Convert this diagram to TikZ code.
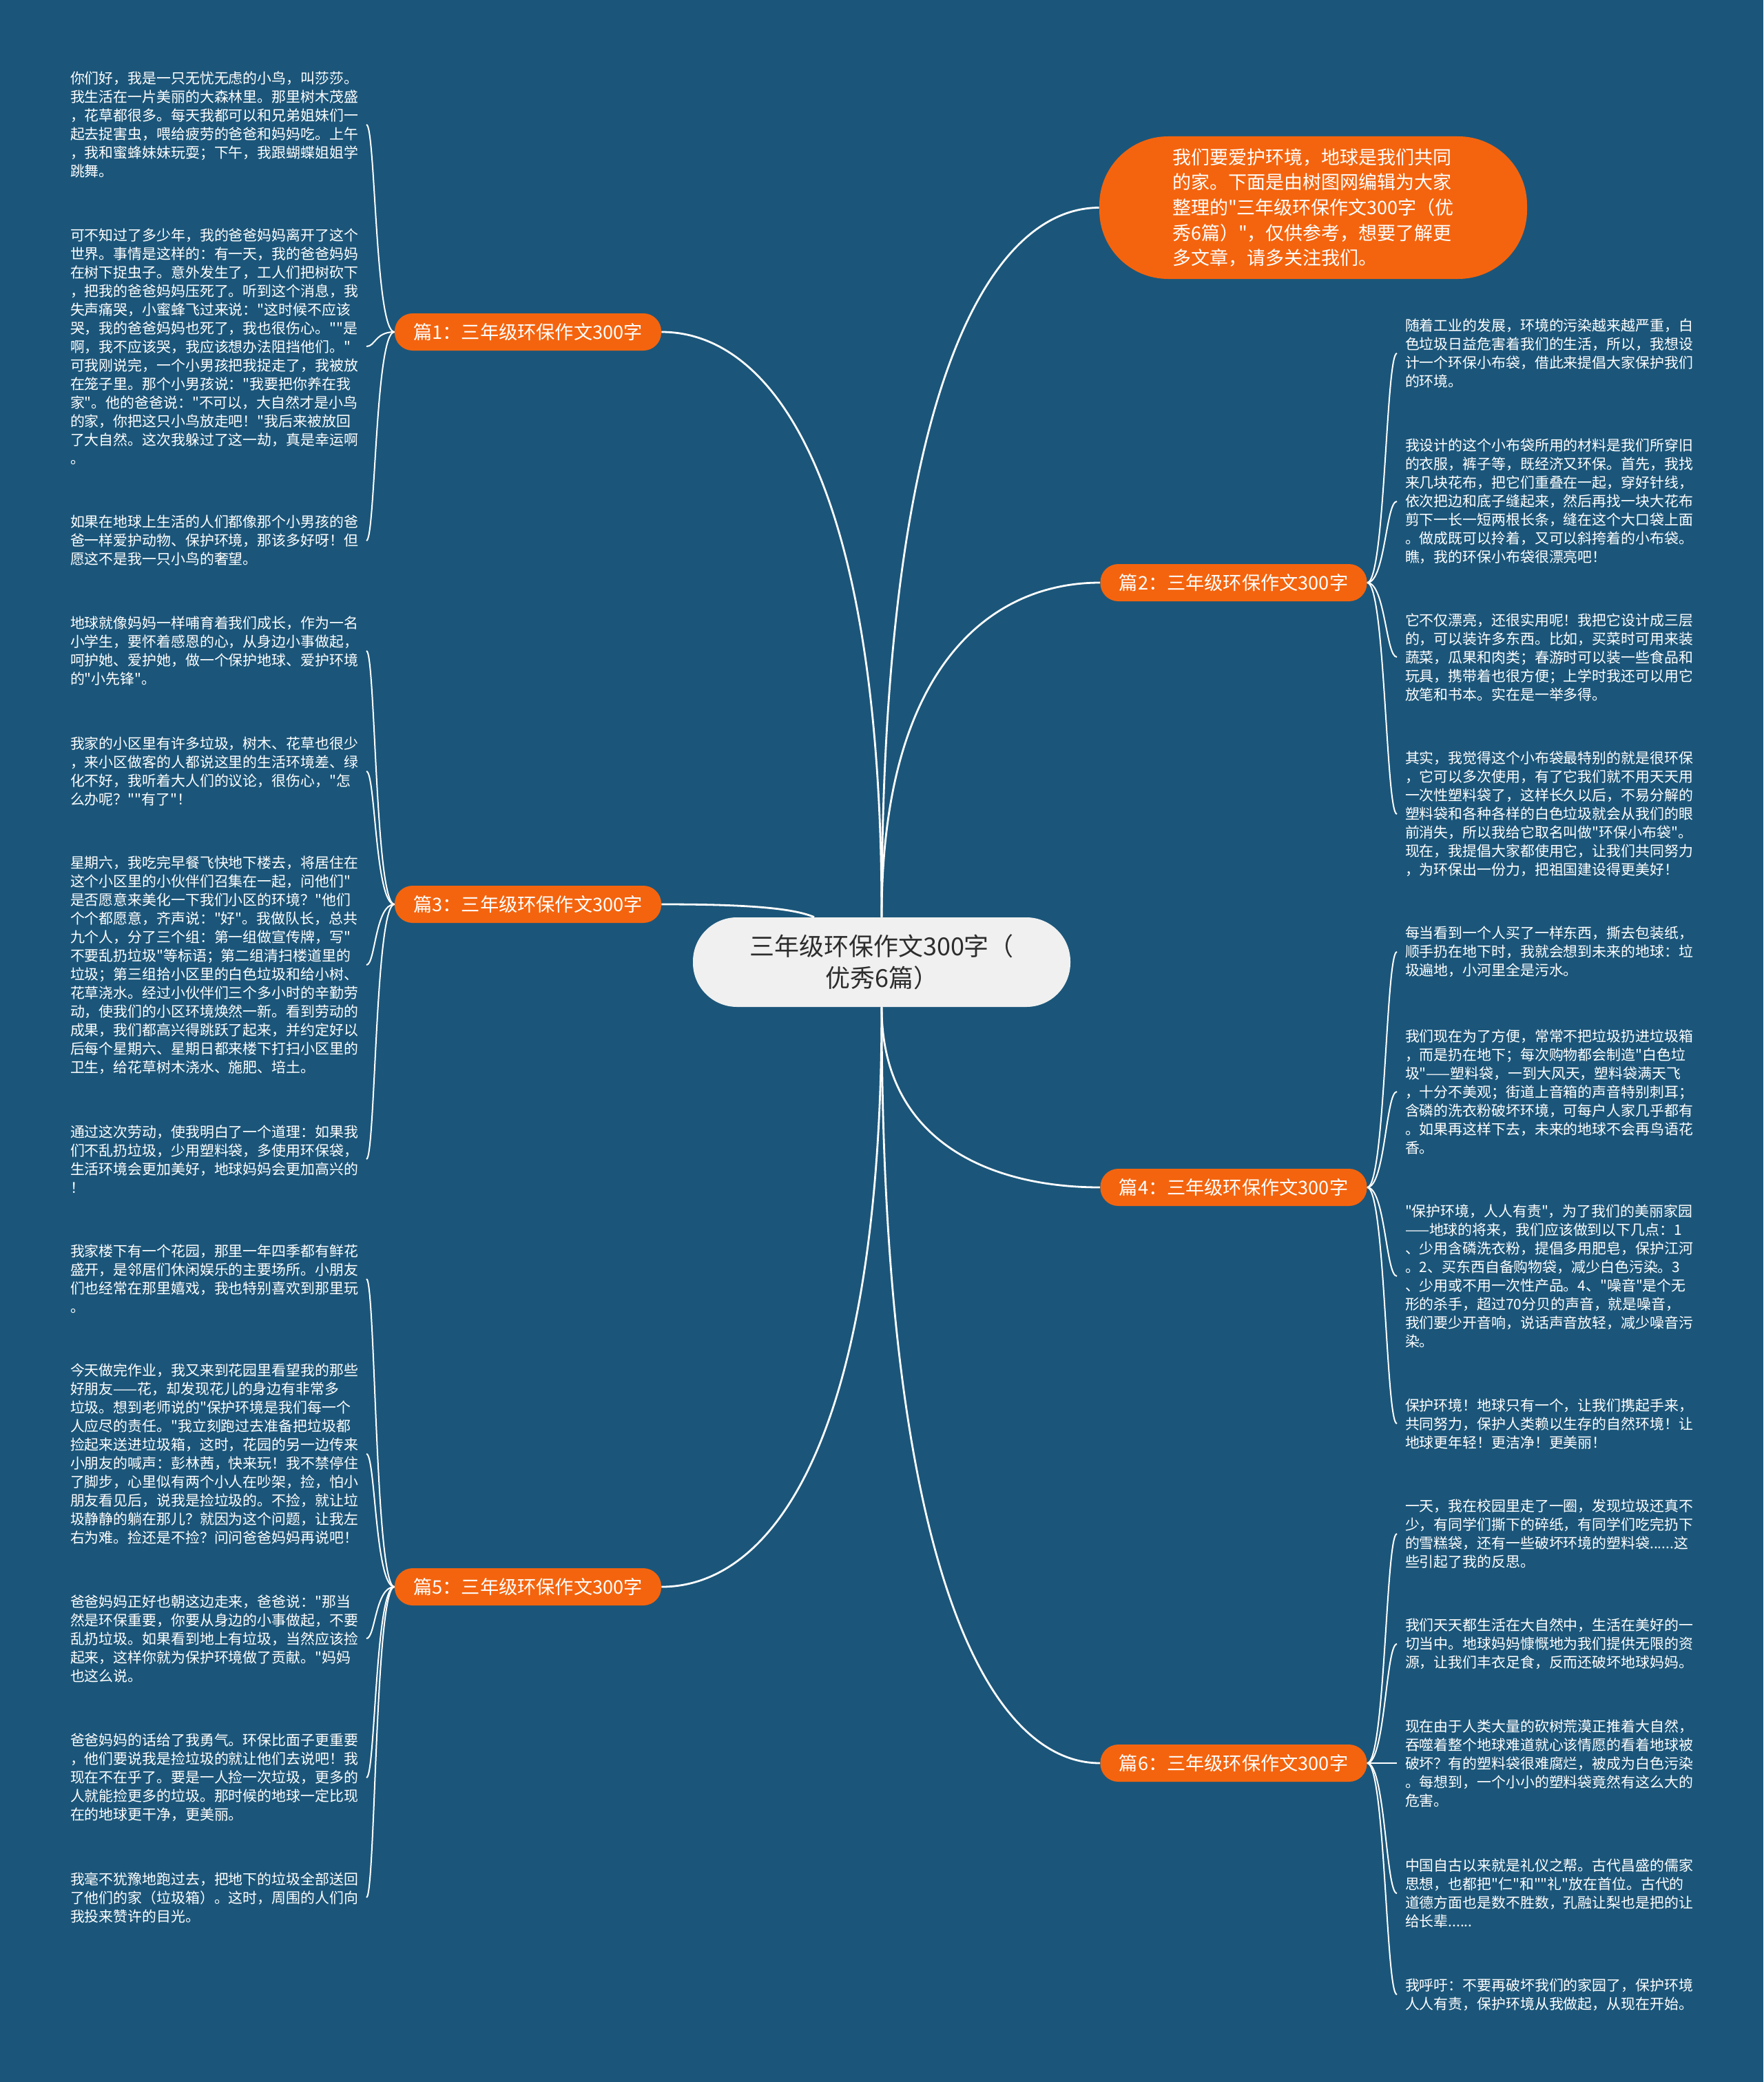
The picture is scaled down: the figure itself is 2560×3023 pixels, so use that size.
\documentclass[tikz,border=0pt]{standalone}
\usepackage{fontspec}
\setmainfont{Noto Sans CJK SC}
\newfontfamily\cjkfont{Noto Sans CJK SC}
\definecolor{bgblue}{RGB}{27,86,122}
\definecolor{essayorange}{RGB}{244,100,14}
\definecolor{centregray}{RGB}{240,240,240}
\definecolor{centretext}{RGB}{45,45,45}
\begin{document}
\begin{tikzpicture}[x=0.5pt,y=-0.5pt,
    centre/.style={rounded corners=32pt,fill=centregray,text=centretext,minimum width=274pt,minimum height=65pt,align=center,font=\cjkfont\fontsize{18pt}{23pt}\selectfont},
    essay/.style={rounded corners=13pt,fill=essayorange,text=white,minimum width=193.5pt,minimum height=27pt,inner sep=0pt,font=\cjkfont\fontsize{13.6pt}{16pt}\selectfont},
    intro/.style={rounded corners=50pt,fill=essayorange,text=white,minimum width=310.5pt,minimum height=103.5pt,align=left,font=\cjkfont\fontsize{13.5pt}{18.3pt}\selectfont},
    para/.style={anchor=west,inner sep=0pt,outer sep=6pt,text=white,align=left,font=\cjkfont\fontsize{10.45pt}{13.5pt}\selectfont},
    trunk/.style={draw=white,line width=1.4pt},
    twig/.style={draw=white,line width=1pt}]
\fill[bgblue] (0,0) rectangle (2560,3023);

% centre and first level
\node[centre] (c) at (1280,1397) {三年级环保作文300字（\\优秀6篇）};
\node[intro] (intro) at (1906.5,301.5) {我们要爱护环境，地球是我们共同\\的家。下面是由树图网编辑为大家\\整理的"三年级环保作文300字（优\\秀6篇）"，仅供参考，想要了解更\\多文章，请多关注我们。};
\node[essay] (b1) at (766.5,482) {篇1：三年级环保作文300字};
\node[essay] (b2) at (1791,846) {篇2：三年级环保作文300字};
\node[essay] (b3) at (766.5,1313) {篇3：三年级环保作文300字};
\node[essay] (b4) at (1791,1724) {篇4：三年级环保作文300字};
\node[essay] (b5) at (766.5,2304) {篇5：三年级环保作文300字};
\node[essay] (b6) at (1791,2560) {篇6：三年级环保作文300字};

% left column
\node[para] (l11) at (90,181) {你们好，我是一只无忧无虑的小鸟，叫莎莎。\\我生活在一片美丽的大森林里。那里树木茂盛\\，花草都很多。每天我都可以和兄弟姐妹们一\\起去捉害虫，喂给疲劳的爸爸和妈妈吃。上午\\，我和蜜蜂妹妹玩耍；下午，我跟蝴蝶姐姐学\\跳舞。};
\node[para] (l12) at (90,503) {可不知过了多少年，我的爸爸妈妈离开了这个\\世界。事情是这样的：有一天，我的爸爸妈妈\\在树下捉虫子。意外发生了，工人们把树砍下\\，把我的爸爸妈妈压死了。听到这个消息，我\\失声痛哭，小蜜蜂飞过来说："这时候不应该\\哭，我的爸爸妈妈也死了，我也很伤心。""是\\啊，我不应该哭，我应该想办法阻挡他们。"\\可我刚说完，一个小男孩把我捉走了，我被放\\在笼子里。那个小男孩说："我要把你养在我\\家"。他的爸爸说："不可以，大自然才是小鸟\\的家，你把这只小鸟放走吧！"我后来被放回\\了大自然。这次我躲过了这一劫，真是幸运啊\\。};
\node[para] (l13) at (90,785) {如果在地球上生活的人们都像那个小男孩的爸\\爸一样爱护动物、保护环境，那该多好呀！但\\愿这不是我一只小鸟的奢望。};
\node[para] (l31) at (90,945) {地球就像妈妈一样哺育着我们成长，作为一名\\小学生，要怀着感恩的心，从身边小事做起，\\呵护她、爱护她，做一个保护地球、爱护环境\\的"小先锋"。};
\node[para] (l32) at (90,1120) {我家的小区里有许多垃圾，树木、花草也很少\\，来小区做客的人都说这里的生活环境差、绿\\化不好，我听着大人们的议论，很伤心，"怎\\么办呢？""有了"！};
\node[para] (l33) at (90,1401) {星期六，我吃完早餐飞快地下楼去，将居住在\\这个小区里的小伙伴们召集在一起，问他们"\\是否愿意来美化一下我们小区的环境？"他们\\个个都愿意，齐声说："好"。我做队长，总共\\九个人，分了三个组：第一组做宣传牌，写"\\不要乱扔垃圾"等标语；第二组清扫楼道里的\\垃圾；第三组拾小区里的白色垃圾和给小树、\\花草浇水。经过小伙伴们三个多小时的辛勤劳\\动，使我们的小区环境焕然一新。看到劳动的\\成果，我们都高兴得跳跃了起来，并约定好以\\后每个星期六、星期日都来楼下打扫小区里的\\卫生，给花草树木浇水、施肥、培土。};
\node[para] (l34) at (90,1683) {通过这次劳动，使我明白了一个道理：如果我\\们不乱扔垃圾，少用塑料袋，多使用环保袋，\\生活环境会更加美好，地球妈妈会更加高兴的\\！};
\node[para] (l51) at (90,1857) {我家楼下有一个花园，那里一年四季都有鲜花\\盛开，是邻居们休闲娱乐的主要场所。小朋友\\们也经常在那里嬉戏，我也特别喜欢到那里玩\\。};
\node[para] (l52) at (90,2111) {今天做完作业，我又来到花园里看望我的那些\\好朋友——花，却发现花儿的身边有非常多\\垃圾。想到老师说的"保护环境是我们每一个\\人应尽的责任。"我立刻跑过去准备把垃圾都\\捡起来送进垃圾箱，这时，花园的另一边传来\\小朋友的喊声：彭林茜，快来玩！我不禁停住\\了脚步，心里似有两个小人在吵架，捡，怕小\\朋友看见后，说我是捡垃圾的。不捡，就让垃\\圾静静的躺在那儿？就因为这个问题，让我左\\右为难。捡还是不捡？问问爸爸妈妈再说吧！};
\node[para] (l53) at (90,2379) {爸爸妈妈正好也朝这边走来，爸爸说："那当\\然是环保重要，你要从身边的小事做起，不要\\乱扔垃圾。如果看到地上有垃圾，当然应该捡\\起来，这样你就为保护环境做了贡献。"妈妈\\也这么说。};
\node[para] (l54) at (90,2581) {爸爸妈妈的话给了我勇气。环保比面子更重要\\，他们要说我是捡垃圾的就让他们去说吧！我\\现在不在乎了。要是一人捡一次垃圾，更多的\\人就能捡更多的垃圾。那时候的地球一定比现\\在的地球更干净，更美丽。};
\node[para] (l55) at (90,2755) {我毫不犹豫地跑过去，把地下的垃圾全部送回\\了他们的家（垃圾箱）。这时，周围的人们向\\我投来赞许的目光。};

% right column
\node[para] (r21) at (2028,513) {随着工业的发展，环境的污染越来越严重，白\\色垃圾日益危害着我们的生活，所以，我想设\\计一个环保小布袋，借此来提倡大家保护我们\\的环境。};
\node[para] (r22) at (2028,728) {我设计的这个小布袋所用的材料是我们所穿旧\\的衣服，裤子等，既经济又环保。首先，我找\\来几块花布，把它们重叠在一起，穿好针线，\\依次把边和底子缝起来，然后再找一块大花布\\剪下一长一短两根长条，缝在这个大口袋上面\\。做成既可以拎着，又可以斜挎着的小布袋。\\瞧，我的环保小布袋很漂亮吧！};
\node[para] (r23) at (2028,954) {它不仅漂亮，还很实用呢！我把它设计成三层\\的，可以装许多东西。比如，买菜时可用来装\\蔬菜，瓜果和肉类；春游时可以装一些食品和\\玩具，携带着也很方便；上学时我还可以用它\\放笔和书本。实在是一举多得。};
\node[para] (r24) at (2028,1182) {其实，我觉得这个小布袋最特别的就是很环保\\，它可以多次使用，有了它我们就不用天天用\\一次性塑料袋了，这样长久以后，不易分解的\\塑料袋和各种各样的白色垃圾就会从我们的眼\\前消失，所以我给它取名叫做"环保小布袋"。\\现在，我提倡大家都使用它，让我们共同努力\\，为环保出一份力，把祖国建设得更美好！};
\node[para] (r41) at (2028,1382) {每当看到一个人买了一样东西，撕去包装纸，\\顺手扔在地下时，我就会想到未来的地球：垃\\圾遍地，小河里全是污水。};
\node[para] (r42) at (2028,1585) {我们现在为了方便，常常不把垃圾扔进垃圾箱\\，而是扔在地下；每次购物都会制造"白色垃\\圾"——塑料袋，一到大风天，塑料袋满天飞\\，十分不美观；街道上音箱的声音特别刺耳；\\含磷的洗衣粉破坏环境，可每户人家几乎都有\\。如果再这样下去，未来的地球不会再鸟语花\\香。};
\node[para] (r43) at (2028,1853) {"保护环境，人人有责"，为了我们的美丽家园\\——地球的将来，我们应该做到以下几点：1\\、少用含磷洗衣粉，提倡多用肥皂，保护江河\\。2、买东西自备购物袋，减少白色污染。3\\、少用或不用一次性产品。4、"噪音"是个无\\形的杀手，超过70分贝的声音，就是噪音，\\我们要少开音响，说话声音放轻，减少噪音污\\染。};
\node[para] (r44) at (2028,2067) {保护环境！地球只有一个，让我们携起手来，\\共同努力，保护人类赖以生存的自然环境！让\\地球更年轻！更洁净！更美丽！};
\node[para] (r61) at (2028,2227) {一天，我在校园里走了一圈，发现垃圾还真不\\少，有同学们撕下的碎纸，有同学们吃完扔下\\的雪糕袋，还有一些破坏环境的塑料袋......这\\些引起了我的反思。};
\node[para] (r62) at (2028,2387) {我们天天都生活在大自然中，生活在美好的一\\切当中。地球妈妈慷慨地为我们提供无限的资\\源，让我们丰衣足食，反而还破坏地球妈妈。};
\node[para] (r63) at (2028,2560) {现在由于人类大量的砍树荒漠正推着大自然，\\吞噬着整个地球难道就心该情愿的看着地球被\\破坏？有的塑料袋很难腐烂，被成为白色污染\\。每想到，一个小小的塑料袋竟然有这么大的\\危害。};
\node[para] (r64) at (2028,2749) {中国自古以来就是礼仪之帮。古代昌盛的儒家\\思想，也都把"仁"和""礼"放在首位。古代的\\道德方面也是数不胜数，孔融让梨也是把的让\\给长辈......};
\node[para] (r65) at (2028,2896) {我呼吁：不要再破坏我们的家园了，保护环境\\人人有责，保护环境从我做起，从现在开始。};

% connectors from the centre
\draw[trunk] (c.north) .. controls (1280,560) and (1438,302) .. (intro.west);
\draw[trunk] (c.north) .. controls (1280,695) and (1120,482) .. (b1.east);
\draw[trunk] (c.north) .. controls (1280,968) and (1438,846) .. (b2.west);
\draw[trunk] (b3.east) .. controls (1080,1313) and (1150,1318) .. ([xshift=-49pt]c.north);
\draw[trunk] (c.south) .. controls (1280,1658) and (1438,1724) .. (b4.west);
\draw[trunk] (c.south) .. controls (1280,2093) and (1120,2304) .. (b5.east);
\draw[trunk] (c.south) .. controls (1280,2285) and (1438,2560) .. (b6.west);

% connectors to the paragraphs
\foreach \n in {l11,l12,l13}
  \draw[twig] (b1.west) .. controls +(-28,0) and +(13,0) .. (\n.east);
\foreach \n in {l31,l32,l33,l34}
  \draw[twig] (b3.west) .. controls +(-28,0) and +(13,0) .. (\n.east);
\foreach \n in {l51,l52,l53,l54,l55}
  \draw[twig] (b5.west) .. controls +(-28,0) and +(13,0) .. (\n.east);
\foreach \n in {r21,r22,r23,r24}
  \draw[twig] (b2.east) .. controls +(26,0) and +(-16,0) .. (\n.west);
\foreach \n in {r41,r42,r43,r44}
  \draw[twig] (b4.east) .. controls +(26,0) and +(-16,0) .. (\n.west);
\foreach \n in {r61,r62,r63,r64,r65}
  \draw[twig] (b6.east) .. controls +(26,0) and +(-16,0) .. (\n.west);
\end{tikzpicture}
\end{document}
